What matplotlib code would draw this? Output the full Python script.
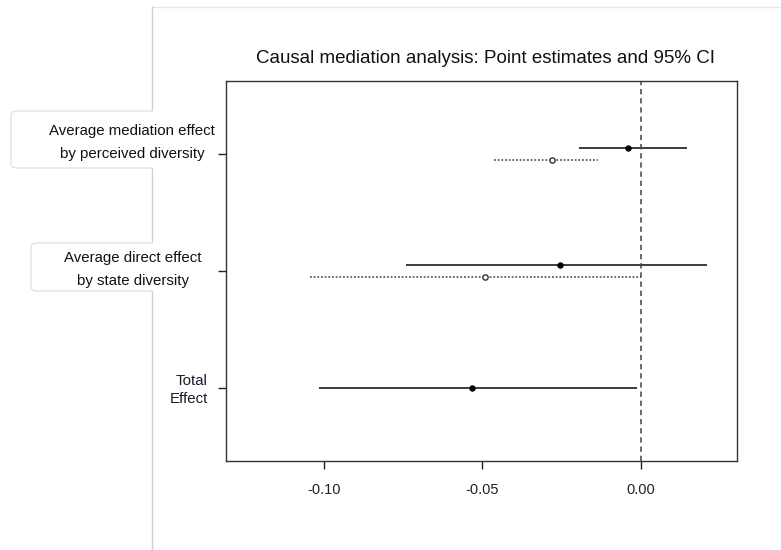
import numpy as np
import matplotlib.pyplot as plt
from matplotlib.patches import FancyBboxPatch, Rectangle
from matplotlib.lines import Line2D

plt.rcParams['font.family'] = ['Liberation Sans', 'DejaVu Sans']

# effects, bottom to top
effect_labels = ["Total\nEffect", "Average direct effect\nby state diversity",
                 "Average mediation effect\nby perceived diversity"]
y_pos = [1, 2, 3]

# treated (solid, filled point): ADE and ACME, plus the total effect
treated_est = [-0.0533, -0.0255, -0.0042]
treated_lo = [-0.1016, -0.0742, -0.0197]
treated_hi = [-0.0014, 0.0207, 0.0144]

# control (dotted, open point): ADE and ACME only
control_y = [2, 3]
control_est = [-0.0492, -0.0281]
control_lo = [-0.1043, -0.0464]
control_hi = [0.0000, -0.0136]

xticks = [-0.10, -0.05, 0.00]
xtick_labels = ["-0.10", "-0.05", "0.00"]

W, H = 781, 550
fig = plt.figure(figsize=(W / 100, H / 100), dpi=100)

def fx(px):
    return px / W

def fy(py):
    return 1 - py / H

# screenshot frame: light grey lines
fig.add_artist(Line2D([fx(152), 1], [fy(7), fy(7)], color="#e6e6e6", lw=1))
fig.add_artist(Line2D([fx(152), fx(152)], [fy(7), 0], color="#cfcfcf", lw=1))

ax = fig.add_axes([fx(226), fy(461), fx(737) - fx(226), fy(81) - fy(461)])

offset = 0.05
for i, y in enumerate(y_pos):
    yy = y + offset if y != 1 else y
    ax.plot([treated_lo[i], treated_hi[i]], [yy, yy], color="#111111", lw=1.15, solid_capstyle="butt")
    ax.plot(treated_est[i], yy, "o", color="black", ms=3.6)
for i, y in enumerate(control_y):
    yy = y - offset
    ax.plot([control_lo[i], control_hi[i]], [yy, yy], color="#444444", lw=1.1,
            linestyle=(0, (1.2, 1.2)))
    ax.plot(control_est[i], yy, "o", mfc="white", mec="#333333", mew=1.0, ms=3.8)

ax.axvline(0, color="#444444", lw=1.1, linestyle=(0, (3.5, 2.5)))

ax.set_xlim(-0.1309, 0.0303)
ax.set_ylim(0.376, 3.624)
ax.set_xticks(xticks)
ax.set_xticklabels(xtick_labels, fontsize=10.5)
ax.set_yticks(y_pos)
ax.set_yticklabels([])
ax.tick_params(axis="x", length=6, width=1, pad=9.5, colors="#222222")
ax.tick_params(axis="y", length=6, width=1, colors="#222222")
for s in ax.spines.values():
    s.set_color("#333333")
    s.set_linewidth(1)

fig.text(fx(485), fy(63), "Causal mediation analysis: Point estimates and 95% CI",
         ha="center", va="baseline", fontsize=13.5, color="#111111")

# label boxes that cover the frame line
boxes = [(11, 111, 168), (31, 243, 291)]
for left, top, bottom in boxes:
    fig.add_artist(FancyBboxPatch((fx(left), fy(bottom)), fx(175) - fx(left), fy(top) - fy(bottom),
                                  boxstyle="round,pad=0,rounding_size=0.008",
                                  fc="white", ec="#e0e0e0", lw=0.9, zorder=3))
    fig.add_artist(Rectangle((fx(153), fy(bottom) - 0.003), fx(40), fy(top) - fy(bottom) + 0.006,
                             fc="white", ec="none", zorder=4))

fig.text(fx(132), fy(142.5), effect_labels[2], ha="center", va="center",
         multialignment="center", fontsize=10.8, linespacing=1.75, color="#111111", zorder=5)
fig.text(fx(133), fy(269.5), effect_labels[1], ha="center", va="center",
         multialignment="center", fontsize=10.8, linespacing=1.75, color="#111111", zorder=5)
fig.text(fx(208), fy(390), effect_labels[0], ha="right", va="center",
         multialignment="right", fontsize=10.8, linespacing=1.35, color="#1a1a2a", zorder=5)

fig.savefig("out.png", dpi=100)
